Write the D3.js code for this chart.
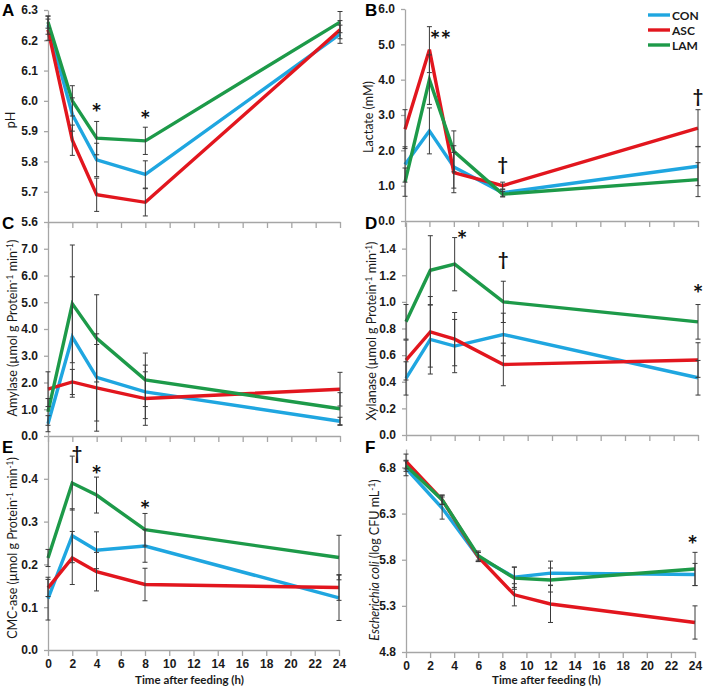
<!DOCTYPE html>
<html>
<head>
<meta charset="utf-8">
<script src="https://cdn.jsdelivr.net/npm/d3@7"></script>
<style>
  body { margin: 0; background: #fff; }
  svg { display: block; font-family: Lato, "Open Sans", sans-serif; }
  .axis .domain, .axis line { stroke: #a6a6a6; stroke-width: 1.3; }
  .axis text { font-size: 12px; font-weight: bold; fill: #1a1a1a; }
  .ytitle { font-size: 12.5px; fill: #1a1a1a; }
  .xtitle { font-size: 11.5px; font-weight: bold; fill: #1a1a1a; }
  .letter { font-family: "Liberation Sans", Arial, sans-serif; font-size: 17px; font-weight: bold; }
  .mark { font-weight: bold; fill: #111; text-anchor: middle; }
</style>
</head>
<body>
<div id="chart"></div>
<script>
// sampling times (h)
var timesA = [0, 2, 4, 8, 24];
var timesF = [0, 3, 6, 9, 12, 24];
var hourTicks = [0, 2, 4, 6, 8, 10, 12, 14, 16, 18, 20, 22, 24];

var seriesNames = ["CON", "ASC", "LAM"];
var seriesColors = ["#1fa6e0", "#e2161e", "#1d9a49"];

// A: pH
var phCON = [6.25, 5.955, 5.805, 5.757, 6.22];
var phASC = [6.235, 5.87, 5.69, 5.665, 6.235];
var phLAM = [6.26, 6.0, 5.877, 5.868, 6.26];
var phCONErr = [0.03, 0.055, 0.055, 0.045, 0.03];
var phASCErr = [0.035, 0.05, 0.055, 0.045, 0.03];
var phLAMErr = [0.02, 0.05, 0.055, 0.045, 0.035];
var phTicks = [5.6, 5.7, 5.8, 5.9, 6.0, 6.1, 6.2, 6.3];

// B: lactate (mM)
var lacCON = [1.6, 2.55, 1.53, 0.8, 1.55];
var lacASC = [2.6, 4.85, 1.37, 1.0, 2.63];
var lacLAM = [1.1, 4.0, 1.97, 0.76, 1.17];
var lacCONErr = [0.5, 0.65, 0.6, 0.1, 0.55];
var lacASCErr = [0.55, 0.65, 0.57, 0.1, 0.52];
var lacLAMErr = [0.4, 0.7, 0.58, 0.08, 0.48];
var lacTicks = [0, 1, 2, 3, 4, 5, 6];

// C: amylase
var amyCON = [0.46, 3.7, 2.19, 1.65, 0.55];
var amyASC = [1.75, 2.02, 1.8, 1.4, 1.75];
var amyLAM = [0.9, 4.94, 3.65, 2.1, 1.02];
var amyCONErr = [0.3, 2.25, 1.63, 1.0, 0.15];
var amyASCErr = [0.65, 0.47, 1.62, 1.0, 0.63];
var amyLAMErr = [0.5, 2.2, 1.63, 1.0, 0.6];
var amyTicks = [0, 1, 2, 3, 4, 5, 6, 7];

// D: xylanase
var xylCON = [0.425, 0.718, 0.668, 0.755, 0.43];
var xylASC = [0.563, 0.775, 0.72, 0.53, 0.563];
var xylLAM = [0.85, 1.237, 1.283, 1.0, 0.85];
var xylCONErr = [0.125, 0.26, 0.2, 0.16, 0.13];
var xylASCErr = [0.15, 0.265, 0.2, 0.16, 0.13];
var xylLAMErr = [0.13, 0.26, 0.2, 0.155, 0.13];
var xylTicks = [0, 0.2, 0.4, 0.6, 0.8, 1.0, 1.2, 1.4];

// E: CMC-ase
var cmcCON = [0.12, 0.267, 0.233, 0.243, 0.122];
var cmcASC = [0.145, 0.215, 0.183, 0.153, 0.146];
var cmcLAM = [0.215, 0.39, 0.362, 0.281, 0.216];
var cmcCONErr = [0.05, 0.063, 0.043, 0.038, 0.053];
var cmcASCErr = [0.02, 0.062, 0.045, 0.038, 0.03];
var cmcLAMErr = [0.02, 0.063, 0.042, 0.038, 0.052];
var cmcTicks = [0, 0.1, 0.2, 0.3, 0.4];

// F: E. coli (log CFU/mL)
var ecoCON = [6.79, 6.36, 5.83, 5.61, 5.655, 5.64];
var ecoASC = [6.865, 6.45, 5.83, 5.42, 5.32, 5.12];
var ecoLAM = [6.818, 6.45, 5.845, 5.6, 5.58, 5.70];
var ecoCONErr = [0.08, 0.12, 0.05, 0.11, 0.13, 0.12];
var ecoASCErr = [0.08, 0.05, 0.05, 0.12, 0.2, 0.18];
var ecoLAMErr = [0.06, 0.05, 0.05, 0.12, 0.13, 0.18];
var ecoTicks = [4.8, 5.3, 5.8, 6.3, 6.8];

// significance marks: [time, value, symbol]
var marksA = [[4, 5.975, "*"], [8, 5.953, "*"]];
var marksB = [[2.9, 5.26, "**"], [8, 1.58, "\u2020"], [24, 3.5, "\u2020"]];
var marksC = [];
var marksD = [[4.6, 1.5, "*"], [8, 1.315, "\u2020"], [24, 1.1, "*"]];
var marksE = [[2.4, 0.458, "\u2020"], [4, 0.42, "*"], [8, 0.339, "*"]];
var marksF = [[23.8, 6.01, "*"]];

var svg = d3.select("#chart").append("svg")
  .attr("width", 708)
  .attr("height", 690);

var panels = [
  { letter: "C", lpos: [2, 229], times: timesA, vals: [amyCON, amyASC, amyLAM], errs: [amyCONErr, amyASCErr, amyLAMErr],
    xr: [48, 340], yr: [436, 222], domain: [0, 8], ticks: amyTicks, xLabels: false,
    title: [["Amylase (\u00b5mol g Protein"], ["-1", "sup"], [" min"], ["-1", "sup"], [")"]], tpos: [17, 328], marks: marksC },
  { letter: "D", lpos: [365, 229], times: timesA, vals: [xylCON, xylASC, xylLAM], errs: [xylCONErr, xylASCErr, xylLAMErr],
    xr: [406, 698], yr: [435, 222], domain: [0, 1.6], ticks: xylTicks, xLabels: false,
    title: [["Xylanase (\u00b5mol g Protein"], ["-1", "sup"], [" min"], ["-1", "sup"], [")"]], tpos: [376, 331], marks: marksD },
  { letter: "A", lpos: [2, 16], times: timesA, vals: [phCON, phASC, phLAM], errs: [phCONErr, phASCErr, phLAMErr],
    xr: [48, 340], yr: [222, 10], domain: [5.6, 6.3], ticks: phTicks, xLabels: false,
    title: [["pH"]], tpos: [15, 120], marks: marksA },
  { letter: "B", lpos: [365, 16], times: timesA, vals: [lacCON, lacASC, lacLAM], errs: [lacCONErr, lacASCErr, lacLAMErr],
    xr: [405, 698], yr: [221, 9], domain: [0, 6], ticks: lacTicks, xLabels: false,
    title: [["Lactate (mM)"]], tpos: [373, 117], marks: marksB },
  { letter: "E", lpos: [2, 453], times: timesA, vals: [cmcCON, cmcASC, cmcLAM], errs: [cmcCONErr, cmcASCErr, cmcLAMErr],
    xr: [48, 339], yr: [650, 436], domain: [0, 0.5], ticks: cmcTicks, xLabels: true,
    title: [["CMC-ase (\u00b5mol g Protein"], ["-1", "sup"], [" min"], ["-1", "sup"], [")"]], tpos: [17, 548], marks: marksE },
  { letter: "F", lpos: [365, 453], times: timesF, vals: [ecoCON, ecoASC, ecoLAM], errs: [ecoCONErr, ecoASCErr, ecoLAMErr],
    xr: [406, 695], yr: [652, 449], domain: [4.8, 7.0], ticks: ecoTicks, xLabels: true,
    title: [["Escherichia coli", "it"], [" (log CFU mL"], ["-1", "sup"], [")"]], tpos: [379, 560], marks: marksF }
];

panels.forEach(drawPanel);
drawLegend();

function drawPanel(p) {
  var x = d3.scaleLinear().domain([0, 24]).range(p.xr);
  var y = d3.scaleLinear().domain(p.domain).range(p.yr);
  var g = svg.append("g");

  var xAxis = d3.axisBottom(x).tickValues(hourTicks)
    .tickSizeInner(6).tickSizeOuter(0).tickPadding(3.5)
    .tickFormat(p.xLabels ? d3.format("d") : function() { return ""; });
  g.append("g").attr("class", "axis")
    .attr("transform", "translate(0," + p.yr[0] + ")")
    .call(xAxis);

  var yAxis = d3.axisLeft(y).tickValues(p.ticks)
    .tickSizeInner(4).tickSizeOuter(0).tickPadding(6)
    .tickFormat(d3.format(".1f"));
  g.append("g").attr("class", "axis")
    .attr("transform", "translate(" + p.xr[0] + ",0)")
    .call(yAxis);

  // y title
  var t = g.append("text").attr("class", "ytitle")
    .attr("text-anchor", "middle")
    .attr("transform", "translate(" + p.tpos[0] + "," + p.tpos[1] + ") rotate(-90)");
  p.title.forEach(function(part) {
    var s = t.append("tspan").text(part[0]);
    if (part[1] == "sup") s.attr("dy", -4).attr("font-size", "8.5px");
    else if (part[1] == "it") s.attr("font-style", "italic");
    if (part[1] != "sup") {
      var prev = s.node().previousSibling;
      if (prev && prev.getAttribute("dy") == "-4") s.attr("dy", 4);
    }
  });

  // panel letter
  svg.append("text").attr("class", "letter")
    .attr("x", p.lpos[0]).attr("y", p.lpos[1]).text(p.letter);

  var line = d3.line().x(function(d) { return x(d[0]); }).y(function(d) { return y(d[1]); });

  p.vals.forEach(function(vals, i) {
    var pts = p.times.map(function(tm, j) { return [tm, vals[j]]; });
    g.append("path").datum(pts)
      .attr("fill", "none")
      .attr("stroke", seriesColors[i])
      .attr("stroke-width", 3.4)
      .attr("stroke-linejoin", "miter")
      .attr("d", line);
  });

  // error bars
  p.vals.forEach(function(vals, i) {
    var err = p.errs[i];
    p.times.forEach(function(tm, j) {
      var cx = x(tm), y0 = y(vals[j] - err[j]), y1 = y(vals[j] + err[j]);
      var eg = g.append("g").attr("stroke", "#3a3a3a").attr("stroke-width", 1);
      eg.append("line").attr("x1", cx).attr("x2", cx).attr("y1", y0).attr("y2", y1);
      eg.append("line").attr("x1", cx - 2.5).attr("x2", cx + 2.5).attr("y1", y0).attr("y2", y0);
      eg.append("line").attr("x1", cx - 2.5).attr("x2", cx + 2.5).attr("y1", y1).attr("y2", y1);
    });
  });

  // x title
  if (p.xLabels) {
    g.append("text").attr("class", "xtitle")
      .attr("text-anchor", "middle")
      .attr("x", (p.xr[0] + p.xr[1]) / 2 - 4)
      .attr("y", 684)
      .text("Time after feeding (h)");
  }

  p.marks.forEach(function(m) {
    var star = m[2].indexOf("*") >= 0;
    g.append("text").attr("class", "mark")
      .attr("x", x(m[0]))
      .attr("y", y(m[1]) + (star ? 14 : 6))
      .attr("font-size", star ? "25px" : "18px")
      .text(m[2]);
  });
}

function drawLegend() {
  var lg = svg.append("g").attr("transform", "translate(648,15)");
  seriesNames.forEach(function(name, i) {
    var row = lg.append("g").attr("transform", "translate(0," + (i * 15) + ")");
    row.append("line").attr("x1", 0).attr("x2", 22).attr("y1", 0).attr("y2", 0)
      .attr("stroke", seriesColors[i]).attr("stroke-width", 3.4);
    row.append("text").attr("x", 24).attr("y", 4.5)
      .attr("font-size", "12px").attr("font-weight", "bold").attr("fill", "#1a1a1a")
      .text(name);
  });
}
</script>
</body>
</html>
